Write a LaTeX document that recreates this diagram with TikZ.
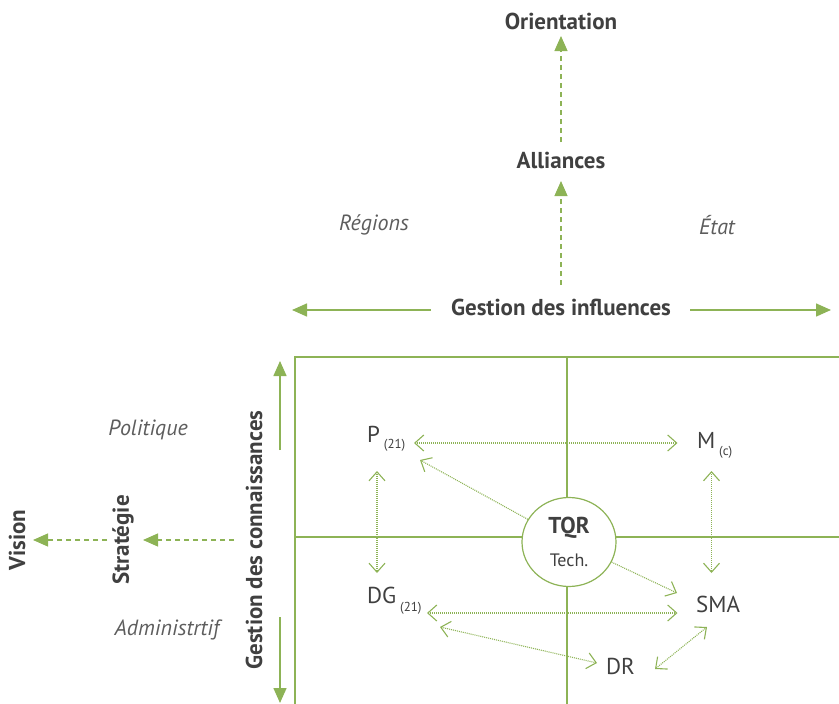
\documentclass[tikz,border=0pt]{standalone}
\usepackage{fontspec}
\setmainfont{PT Sans}
\usetikzlibrary{arrows.meta,shapes.geometric,calc}
\definecolor{vert}{RGB}{141,179,86}
\definecolor{gris}{RGB}{64,64,64}
\newcommand{\lowsub}[2]{\,\raisebox{-#1pt}{\fontsize{13}{13}\selectfont #2}}

\begin{document}
\begin{tikzpicture}[x=1pt,y=-1pt,
    titre/.style={text=gris,font=\fontsize{23}{26}\selectfont\bfseries},
    zone/.style={text=gris!85,font=\fontsize{22}{25}\selectfont\itshape},
    lb/.style={text=gris,font=\fontsize{23}{26}\selectfont,anchor=base west,inner sep=0},
    tq/.style={ellipse,draw=vert,line width=1.2pt,fill=white,minimum width=94,minimum height=89,align=center,text=gris,font=\fontsize{18}{33}\selectfont},
    pl/.style={draw=vert,line width=1.5pt,-{Triangle[length=15pt,width=13pt]}},
    dsh/.style={draw=vert,line width=1.2pt,dash pattern=on 5pt off 4pt,-{Triangle[length=15pt,width=13pt]}},
    lk/.style={draw=vert,line width=1.1pt,dash pattern=on 1pt off 1pt,{Straight Barb[length=9pt,width=16pt]}-{Straight Barb[length=9pt,width=16pt]}},
    lk1/.style={draw=vert,line width=1.1pt,dash pattern=on 1pt off 1pt,-{Straight Barb[length=9pt,width=16pt]}}]
    \useasboundingbox (0,0) rectangle (839,704);

    % cadre
    \draw[vert,line width=1.5pt] (295,704) -- (295,357) -- (839,357);
    \draw[vert,line width=1.2pt] (567,357) -- (567,704);
    \draw[vert,line width=1.2pt] (295,537) -- (839,537);

    % axe du haut
    \node (Or) at (561,21) [titre] {Orientation};
    \node (Al) at (561,160) [titre] {Alliances};
    \node (GI) at (561,307) [titre] {Gestion des influences};
    \node (Re) at (374,225) [zone] {Régions};
    \node (Et) at (717,225) [zone] {État};
    \draw[dsh,shorten <=18pt,shorten >=15pt] (Al.center) -- (Or.center);
    \draw[dsh,shorten <=22pt,shorten >=21pt] (GI.center) -- (Al.center);
    \coordinate (gl) at (292,310);
    \coordinate (gr) at (831,310);
    \draw[pl] (GI.west) ++(-17,3) -- (gl);
    \draw[pl] (GI.east) ++(16,3) -- (gr);

    % axe de gauche
    \node (GC) at (254,540) [titre,rotate=90] {Gestion des connaissances};
    \node (St) at (123,540) [titre,rotate=90] {Stratégie};
    \node (Vi) at (17,540) [titre,rotate=90] {Vision};
    \node (Po) at (148,430) [zone] {Politique};
    \node (Ad) at (167,630) [zone] {Administrtif};
    \draw[dsh,shorten <=20pt,shorten >=20pt] (GC.center) -- (St.center);
    \draw[dsh,shorten <=16pt,shorten >=16pt] (St.center) -- (Vi.center);
    \coordinate (gu) at (280,361);
    \coordinate (gd) at (280,703);
    \draw[pl] (gu) ++(0,89) -- (gu);
    \draw[pl] (gd) ++(0,-86) -- (gd);

    % acteurs
    \node (P) at (367,442) [lb] {P\lowsub{6}{(21)}};
    \node (M) at (697,448) [lb] {M\lowsub{7}{(c)}};
    \node (DG) at (367,603) [lb] {DG\lowsub{8}{(21)}};
    \node (SMA) at (696,612) [lb] {SMA};
    \node (DR) at (606,674) [lb] {DR};
    \node (TQR) at (569,542) [tq] {{\fontsize{23}{33}\selectfont\bfseries TQR}\\Tech.};

    \draw[lk] ($(P.base west)+(47,1)$) -- ($(M.base west)+(-19.5,-5)$);
    \draw[lk] ($(P.base west)+(10,29)$) -- ($(DG.base west)+(10,-30)$);
    \draw[lk] ($(M.base west)+(14.5,23)$) -- ($(SMA.base west)+(15.5,-39)$);
    \draw[lk1] (TQR) -- ($(P.base west)+(53,18)$);
    \draw[lk1] (TQR) -- ($(SMA.base west)+(-19,-19)$);
    \draw[lk] ($(DG.base west)+(60,10)$) -- ($(SMA.base west)+(-18.5,1)$);
    \draw[lk] ($(DG.base west)+(73,24)$) -- ($(DR.base west)+(-9,-11)$);
    \draw[lk] ($(DR.base west)+(49,-5)$) -- ($(SMA.base west)+(11,15)$);
  \end{tikzpicture}
\end{document}
